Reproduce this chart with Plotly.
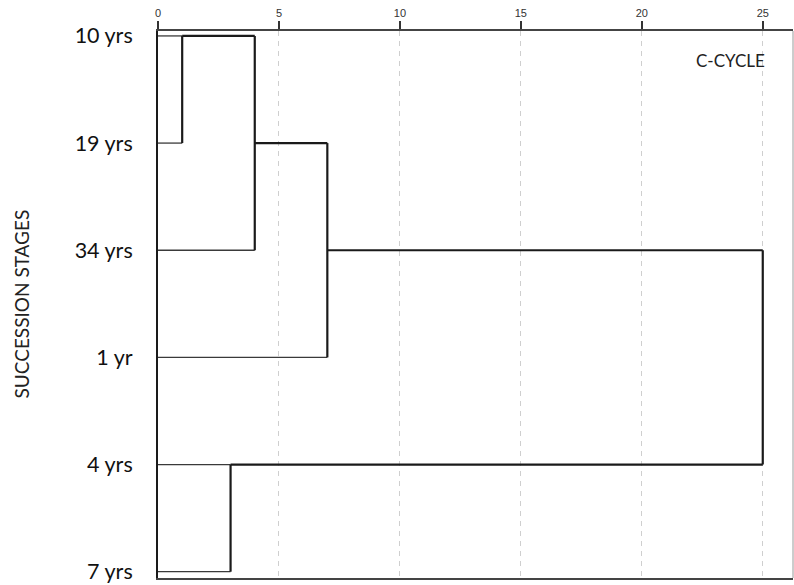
import math
import plotly.graph_objects as go

# ---- data ----
leaf_labels = ["10 yrs", "19 yrs", "34 yrs", "1 yr", "4 yrs", "7 yrs"]
# linkage: clusters numbered 6.. in order of the rows below
merge_a = [0, 6, 7, 4, 8]
merge_b = [1, 2, 3, 5, 9]
merge_height = [1, 4, 7, 3, 25]
x_ticks = [0, 5, 10, 15, 20, 25]
panel_label = "C-CYCLE"
y_title = "SUCCESSION STAGES"

n = len(leaf_labels)
rows = list(range(n))
node_row = {i: rows[i] for i in range(n)}
node_h = {i: 0 for i in range(n)}

thin_x, thin_y = [], []
thick_x, thick_y = [], []

def add(seg_x, seg_y, thick):
    if thick:
        thick_x.extend(seg_x + [None]); thick_y.extend(seg_y + [None])
    else:
        thin_x.extend(seg_x + [None]); thin_y.extend(seg_y + [None])

for k, (a, b, h) in enumerate(zip(merge_a, merge_b, merge_height)):
    ra, rb = node_row[a], node_row[b]
    add([node_h[a], h], [ra, ra], a >= n)
    add([node_h[b], h], [rb, rb], b >= n)
    add([h, h], [ra, rb], True)
    cid = n + k
    node_row[cid] = math.floor((ra + rb) / 2)
    node_h[cid] = h

fig = go.Figure()
fig.add_trace(go.Scatter(x=thin_x, y=thin_y, mode="lines",
                         line=dict(color="#3a3a3a", width=1.3),
                         hoverinfo="skip", showlegend=False))
fig.add_trace(go.Scatter(x=thick_x, y=thick_y, mode="lines",
                         line=dict(color="#1a1a1a", width=2.2),
                         hoverinfo="skip", showlegend=False))

fig.update_layout(
    width=794, height=585,
    margin=dict(l=158, r=1, t=31, b=3),
    paper_bgcolor="white", plot_bgcolor="white",
    showlegend=False,
    xaxis=dict(
        side="top", range=[0, 26.25],
        tickvals=x_ticks, ticktext=[str(v) for v in x_ticks],
        ticks="outside", ticklen=8, tickwidth=1.5, tickcolor="#333",
        tickfont=dict(family="Liberation Sans, Arial", size=11, color="#333"),
        showline=True, linecolor="#444", linewidth=1.5, mirror=True,
        showgrid=True, gridcolor="#cfcfcf", gridwidth=1, griddash="5px,5px",
        zeroline=False, ticklabeloverflow="allow",
    ),
    yaxis=dict(
        range=[5.059, -0.046],
        tickvals=rows, ticktext=leaf_labels,
        ticks="", ticklabelstandoff=19, ticklabeloverflow="allow",
        tickfont=dict(family="Lato, Carlito, Calibri, sans-serif", size=21.5, color="#111"),
        showline=True, linecolor="#1a1a1a", linewidth=2,
        showgrid=False, zeroline=False,
    ),
    annotations=[
        dict(text=panel_label, xref="paper", yref="paper",
             x=(767 - 158) / 635, y=1 - (61 - 31) / 551,
             xanchor="right", yanchor="middle", showarrow=False,
             font=dict(family="Lato, Carlito, Calibri, sans-serif", size=17, color="#222")),
        dict(text=y_title, xref="paper", yref="paper",
             x=(21 - 158) / 635, y=0.5, textangle=-90,
             xanchor="center", yanchor="middle", showarrow=False,
             font=dict(family="Lato, Carlito, Calibri, sans-serif", size=19, color="#222")),
    ],
    shapes=[
        dict(type="line", xref="paper", yref="paper", x0=1, x1=1, y0=0, y1=1,
             line=dict(color="#9a9a9a", width=1)),
    ],
)

fig.write_html(
    "out.html",
    config={"displayModeBar": False},
    post_script="document.body.style.margin='0px';document.body.style.overflow='hidden';",
)
